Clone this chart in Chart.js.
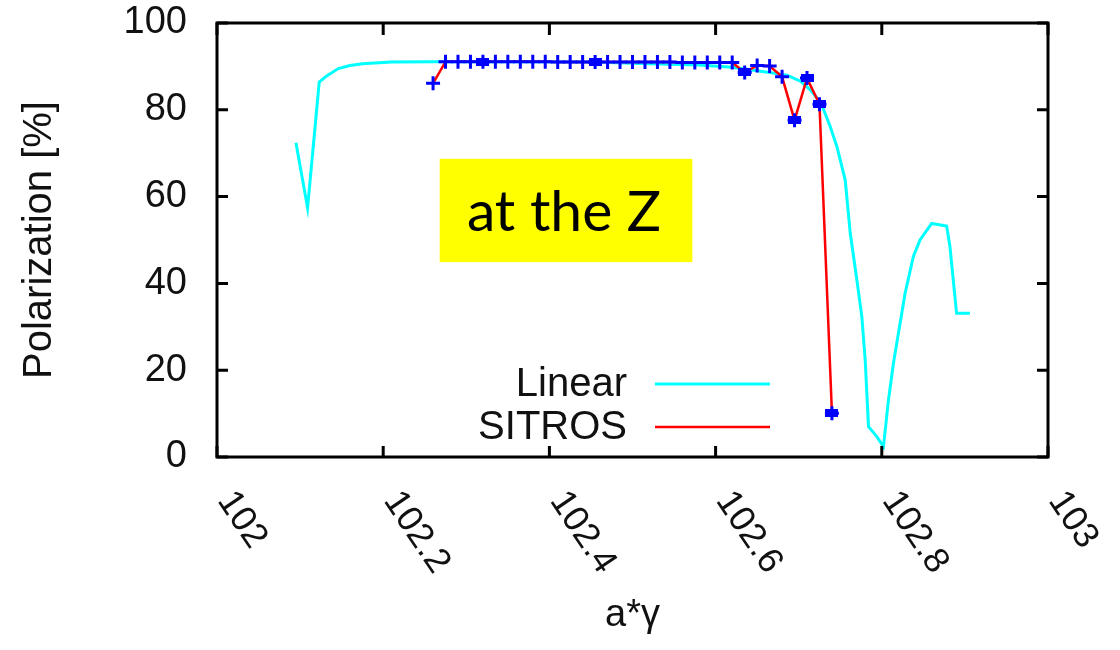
<!DOCTYPE html>
<html>
<head>
<meta charset="utf-8">
<script src="https://cdn.jsdelivr.net/npm/chart.js@4.4.1/dist/chart.umd.min.js"></script>
<style>
  html, body { margin: 0; padding: 0; background: #ffffff; }
  #grafico { display: block; }
</style>
</head>
<body>
<canvas id="grafico" width="1120" height="650"></canvas>
<script>
// =======================
// DATOS
// =======================
const linearX = [102.095, 102.109, 102.123, 102.132, 102.146, 102.160, 102.175, 102.190, 102.210, 102.260,
  102.350, 102.450, 102.520, 102.580, 102.620, 102.650, 102.686, 102.702, 102.714, 102.727,
  102.738, 102.746, 102.756, 102.762, 102.770, 102.776, 102.780, 102.784, 102.794, 102.802,
  102.808, 102.814, 102.820, 102.828, 102.838, 102.846, 102.860, 102.878, 102.882, 102.890, 102.906];
const linearY = [72.4, 57.4, 86.4, 87.8, 89.5, 90.2, 90.6, 90.8, 91.0, 91.1,
  91.1, 91.0, 90.6, 90.3, 89.8, 89.0, 88.0, 86.6, 84.6, 81.5,
  76.1, 71.5, 63.8, 51.6, 40.8, 32.3, 22.4, 7.0, 4.7, 2.4,
  13.1, 21.6, 28.5, 37.7, 46.2, 50.0, 53.8, 53.2, 48.5, 33.1, 33.1];

const sitrosX = [102.260, 102.275, 102.290, 102.305, 102.320, 102.335, 102.350, 102.365, 102.380, 102.395,
  102.410, 102.425, 102.440, 102.455, 102.470, 102.485, 102.500, 102.515, 102.530, 102.545,
  102.560, 102.575, 102.590, 102.605, 102.620, 102.635, 102.650, 102.665, 102.680, 102.695,
  102.710, 102.725, 102.740];
const sitrosY = [86.1, 91.1, 91.1, 91.1, 91.1, 91.1, 91.1, 91.1, 91.1, 91.1,
  91.0, 91.0, 91.0, 91.0, 91.0, 91.0, 91.0, 91.0, 91.0, 91.0,
  90.9, 90.9, 90.9, 90.9, 90.9, 88.6, 90.2, 90.1, 87.6, 77.6,
  87.3, 81.3, 10.1];
// puntos SITROS marcados con cuadrado
const sitrosCuadros = [4, 13, 25, 29, 30, 31, 32];

const xTicks = [102, 102.2, 102.4, 102.6, 102.8, 103];
const xTickLabels = ["102", "102.2", "102.4", "102.6", "102.8", "103"];
const yTicks = [0, 20, 40, 60, 80, 100];

const seriesNombres = ["Linear", "SITROS"];
const notaTexto = "at the Z";

// =======================
// ESTILOS
// =======================
const CYAN = "#00ffff";
const ROJO = "#ff0000";
const AZUL = "#0000ff";
const FUENTE = "'Liberation Sans', Arial, sans-serif";

const toXY = (xs, ys) => xs.map((x, i) => ({ x: x, y: ys[i] }));

// marcador cuadrado relleno (algo más ancho que alto)
function crearCuadro() {
  const c = document.createElement("canvas");
  c.width = 13;
  c.height = 8;
  const g = c.getContext("2d");
  g.fillStyle = AZUL;
  g.fillRect(0, 0, 13, 8);
  return c;
}

// =======================
// PLUGIN: marco, ticks, etiquetas, leyenda, nota
// =======================
const decoracion = {
  id: "decoracion",
  afterDraw(chart) {
    const ctx = chart.ctx;
    const a = chart.chartArea;
    const sx = chart.scales.x;
    const sy = chart.scales.y;

    ctx.save();

    // nota amarilla
    const bx0 = sx.getPixelForValue(102.268), bx1 = sx.getPixelForValue(102.572);
    const by0 = sy.getPixelForValue(68.7), by1 = sy.getPixelForValue(44.9);
    ctx.fillStyle = "#ffff00";
    ctx.fillRect(bx0, by0, bx1 - bx0, by1 - by0);
    ctx.fillStyle = "#000000";
    ctx.font = "57px Lato, 'Open Sans', sans-serif";
    ctx.textAlign = "center";
    ctx.textBaseline = "middle";
    ctx.fillText(notaTexto, (bx0 + bx1) / 2 - 2, (by0 + by1) / 2 + 2);

    // marco
    ctx.strokeStyle = "#000000";
    ctx.lineWidth = 3;
    ctx.strokeRect(a.left, a.top, a.right - a.left, a.bottom - a.top);

    // ticks hacia dentro, en los cuatro lados
    ctx.beginPath();
    xTicks.forEach(v => {
      const px = sx.getPixelForValue(v);
      ctx.moveTo(px, a.bottom); ctx.lineTo(px, a.bottom - 11);
      ctx.moveTo(px, a.top); ctx.lineTo(px, a.top + 12);
    });
    yTicks.forEach(v => {
      const py = sy.getPixelForValue(v);
      ctx.moveTo(a.left, py); ctx.lineTo(a.left + 11, py);
      ctx.moveTo(a.right, py); ctx.lineTo(a.right - 11, py);
    });
    ctx.stroke();

    // etiquetas del eje x giradas
    ctx.fillStyle = "#111111";
    ctx.font = "36px " + FUENTE;
    ctx.textAlign = "left";
    ctx.textBaseline = "middle";
    xTicks.forEach((v, i) => {
      const px = sx.getPixelForValue(v);
      ctx.save();
      ctx.translate(px + 8, a.bottom + 38);
      ctx.rotate(56 * Math.PI / 180);
      ctx.fillText(xTickLabels[i], 0, 0);
      ctx.restore();
    });

    // leyenda
    const colores = [CYAN, ROJO];
    const filas = [sy.getPixelForValue(16.8), sy.getPixelForValue(6.9)];
    ctx.font = "40px " + FUENTE;
    ctx.textAlign = "right";
    ctx.textBaseline = "middle";
    seriesNombres.forEach((nombre, i) => {
      ctx.fillStyle = "#111111";
      ctx.fillText(nombre, 627, filas[i] + 1);
      ctx.strokeStyle = colores[i];
      ctx.lineWidth = i === 0 ? 3 : 2.5;
      ctx.beginPath();
      ctx.moveTo(655, filas[i]);
      ctx.lineTo(770, filas[i]);
      ctx.stroke();
    });

    ctx.restore();
  }
};

// =======================
// GRAFICO
// =======================
const cuadro = crearCuadro();

new Chart(document.getElementById("grafico"), {
  type: "scatter",
  data: {
    datasets: [
      {
        label: seriesNombres[0],
        data: toXY(linearX, linearY),
        showLine: true,
        borderColor: CYAN,
        borderWidth: 3,
        pointRadius: 0,
        order: 3
      },
      {
        label: seriesNombres[1],
        data: toXY(sitrosX, sitrosY),
        showLine: true,
        borderColor: ROJO,
        borderWidth: 2.5,
        pointStyle: "cross",
        pointRadius: 7,
        pointBorderColor: AZUL,
        pointBorderWidth: 3,
        pointBackgroundColor: AZUL,
        order: 2
      },
      {
        label: "cuadros",
        data: sitrosCuadros.map(i => ({ x: sitrosX[i], y: sitrosY[i] })),
        showLine: false,
        pointStyle: cuadro,
        pointRadius: 6,
        order: 1
      }
    ]
  },
  options: {
    responsive: false,
    animation: false,
    events: [],
    layout: { padding: { top: 23, right: 72, left: 16, bottom: 8 } },
    plugins: {
      legend: { display: false },
      tooltip: { enabled: false }
    },
    scales: {
      x: {
        type: "linear",
        min: 102,
        max: 103,
        grid: { display: false, drawTicks: false },
        border: { display: false },
        ticks: { display: false },
        afterBuildTicks: s => { s.ticks = xTicks.map(v => ({ value: v })); },
        afterFit: s => { s.height = 650 - 457 - 8; s.paddingLeft = 0; s.paddingRight = 0; },
        title: {
          display: true,
          text: "a*\u03b3",
          color: "#111111",
          font: { family: FUENTE, size: 38 },
          padding: { top: 0, bottom: 4 }
        }
      },
      y: {
        min: 0,
        max: 100,
        grid: { display: false, drawTicks: false },
        border: { display: false },
        afterBuildTicks: s => { s.ticks = yTicks.map(v => ({ value: v })); },
        afterFit: s => { s.width = 217 - 16; s.paddingTop = 0; s.paddingBottom = 0; },
        ticks: {
          color: "#111111",
          padding: 30,
          font: { family: FUENTE, size: 38 }
        },
        title: {
          display: true,
          text: "Polarization [%]",
          color: "#111111",
          font: { family: FUENTE, size: 40 },
          padding: { top: 0, bottom: 0 }
        }
      }
    }
  },
  plugins: [decoracion]
});
</script>
</body>
</html>
